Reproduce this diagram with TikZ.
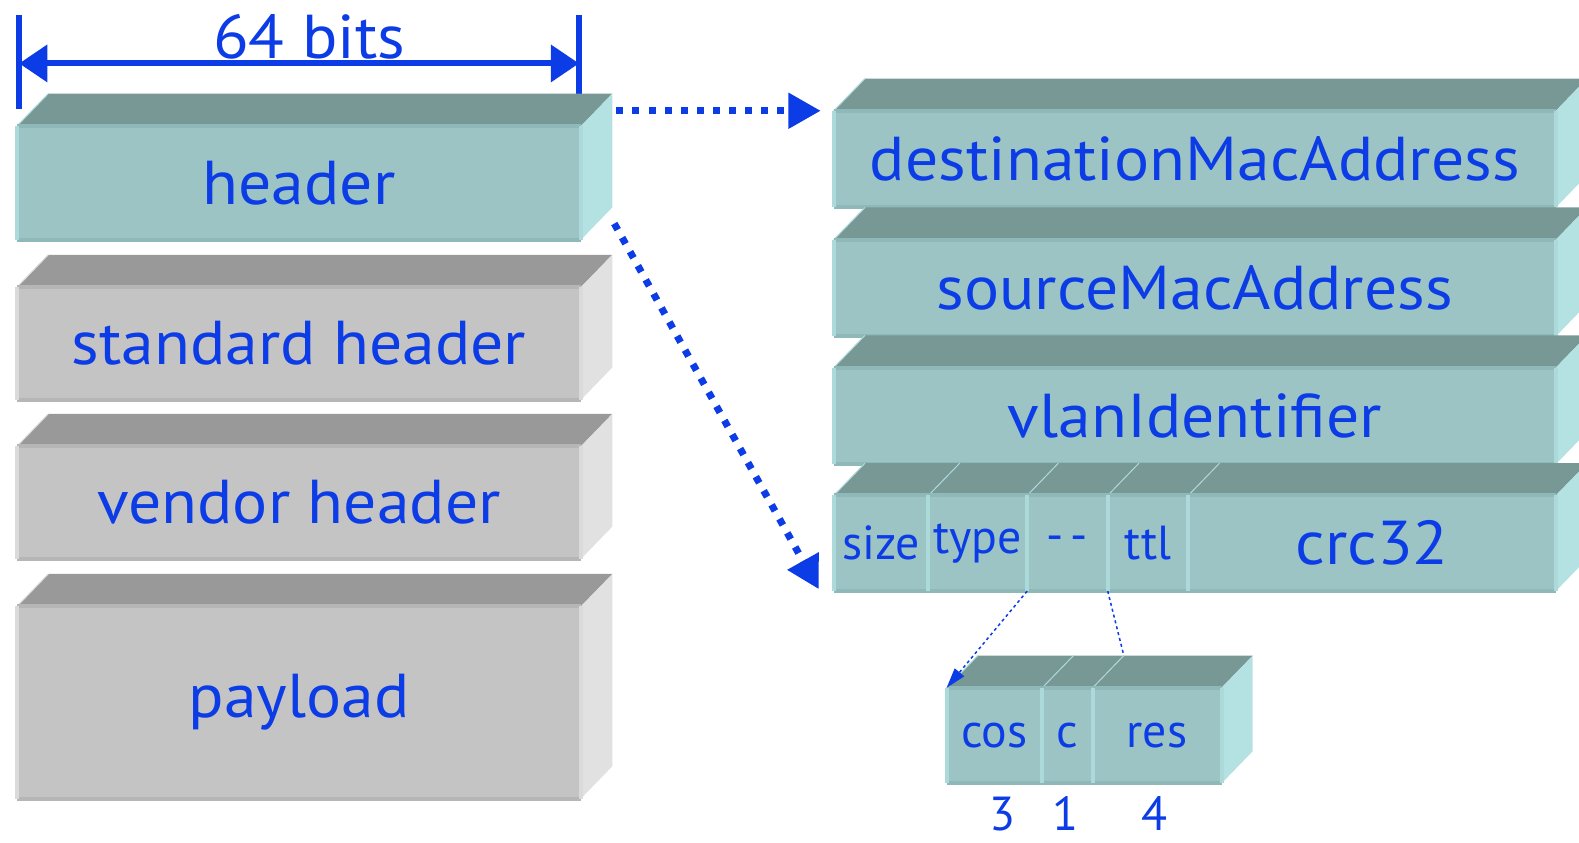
\documentclass[tikz,border=0pt]{standalone}
\usepackage{fontspec}
\setmainfont{PT Sans}
\newfontfamily\widefont[FakeStretch=1.06]{PT Sans}
\usetikzlibrary{arrows.meta,calc,positioning}

\definecolor{inkblue}{RGB}{12,60,230}
\definecolor{aquafront}{RGB}{156,196,196}
\definecolor{aquatop}{RGB}{120,152,150}
\definecolor{aquaside}{RGB}{180,226,226}
\definecolor{aquarim}{RGB}{143,184,184}
\definecolor{aqualit}{RGB}{172,218,218}
\definecolor{ashfront}{RGB}{196,196,196}
\definecolor{ashtop}{RGB}{153,153,153}
\definecolor{ashside}{RGB}{225,225,225}
\definecolor{ashrim}{RGB}{182,182,182}
\definecolor{ashlit}{RGB}{218,218,218}

\newcommand{\bigfont}{\widefont\fontsize{17.5}{20}\selectfont}
\newcommand{\smallfont}{\fontsize{13.5}{16}\selectfont}

\tikzstyle{slab}=[inner sep=0pt, outer sep=0pt, text=inkblue, font=\bigfont]
\tikzstyle{lbl}=[text=inkblue, font=\bigfont, inner sep=0pt]
\tikzstyle{tick}=[draw=inkblue, line width=0.6mm]
\tikzstyle{span}=[draw=inkblue, line width=0.6mm, {Triangle[length=2.8mm,width=3.6mm]}-{Triangle[length=2.8mm,width=3.6mm]}]
\tikzstyle{hop}=[draw=inkblue, line width=0.7mm, dash pattern=on 0.7mm off 0.9mm, -{Triangle[length=3.2mm,width=3.4mm]}]
\tikzstyle{split}=[draw=inkblue, line width=0.15mm, dash pattern=on 0.3mm off 0.3mm]

% top face, side face and rims of a slab node: #1 node, #2 colour scheme
\newcommand{\faces}[2]{%
    \fill[#2top] (#1.north west) -- ++(31,-32) -- ($(#1.north east)+(31,-32)$) -- (#1.north east) -- cycle;
    \fill[#2side] (#1.north east) -- ++(31,-32) -- ($(#1.south east)+(31,-32)$) -- (#1.south east) -- cycle;
    \draw[#2lit, line width=0.1mm] (#1.north west) -- ++(31,-32);
    \draw[#2rim, line width=0.4mm] (#1.north west) -- (#1.north east) (#1.south west) -- (#1.south east);
    \draw[#2lit, line width=0.4mm] (#1.north west) -- (#1.south west) (#1.north east) -- (#1.south east);
}

\begin{document}
\begin{tikzpicture}[x=0.1mm, y=-0.1mm]
    \clip (0,0) rectangle (1568,837);
    % The 64 bit ruler
    \coordinate (rulerL) at (19,63);
    \coordinate (rulerR) at (575,63);
    \draw[tick] (rulerL) ++(0,-48) -- ++(0,93);
    \draw[tick] (rulerR) ++(0,-48) -- ++(0,95);
    \draw[span] (rulerL) -- (rulerR);
    \node[lbl, anchor=base] (bits) at (307,58) {64 bits};
    % Left stack of the frame
    \foreach \n/\cx/\cy/\w/\h/\sch/\txt in {hdr/297/181.5/560/113/aqua/header,
        std/297/341/560/112/ash/standard header, vnd/297/499/560/112/ash/vendor header,
        pay/297/697.5/560/191/ash/payload}
    {
        \node[slab, fill=\sch front, minimum width=\w*0.1mm, minimum height=\h*0.1mm] (\n) at (\cx,\cy) {\txt};
        \faces{\n}{\sch}
    }
    % Header words on the right
    \foreach \n/\cy/\txt in {dest/158/destinationMacAddress, src/286/sourceMacAddress, vlan/413/vlanIdentifier}
    {
        \node[slab, fill=aquafront, minimum width=717*0.1mm, minimum height=96*0.1mm] (\n) at (1186.5,\cy) {\txt};
        \faces{\n}{aqua}
    }
    \foreach \n/\cx/\w/\txt in {size/875/94/size, type/971/98/type, dash/1060/80/{-\kern2pt-}, ttl/1140/80/ttl}
    {
        \node[slab, font=\smallfont, fill=aquafront, minimum width=\w*0.1mm, minimum height=95*0.1mm] (\n) at (\cx,539.5) {\txt};
        \faces{\n}{aqua}
    }
    \node[slab, fill=aquafront, minimum width=365*0.1mm, minimum height=95*0.1mm] (crc) at (1362.5,539.5) {crc32};
    \faces{crc}{aqua}
    % The -- field split up
    \foreach \n/\cx/\w/\txt in {cos/987.5/95/cos, c/1060/50/c, res/1149/128/res}
    {
        \node[slab, font=\smallfont, fill=aquafront, minimum width=\w*0.1mm, minimum height=95*0.1mm] (\n) at (\cx,730.5) {\txt};
        \faces{\n}{aqua}
    }
    \foreach \n/\cx/\txt in {n3/996/3, n1/1058/1, n4/1146/4}
        \node[lbl, font=\smallfont, anchor=base] (\n) at (\cx,825) {\txt};
    % Connectors
    \draw[hop] ($(hdr.north east)+(35,-15)$) -- ($(dest.north west)+(-13,0)$);
    \draw[hop] ($(hdr.south east)+(33,-16)$) -- ($(size.south west)+(-15,-2)$);
    \draw[split, -{Triangle[length=2mm,width=1.2mm]}] (dash.south west) -- (cos.north west);
    \draw[split] (ttl.south west) -- ($(res.north west)+(31,-32)$);
\end{tikzpicture}
\end{document}
